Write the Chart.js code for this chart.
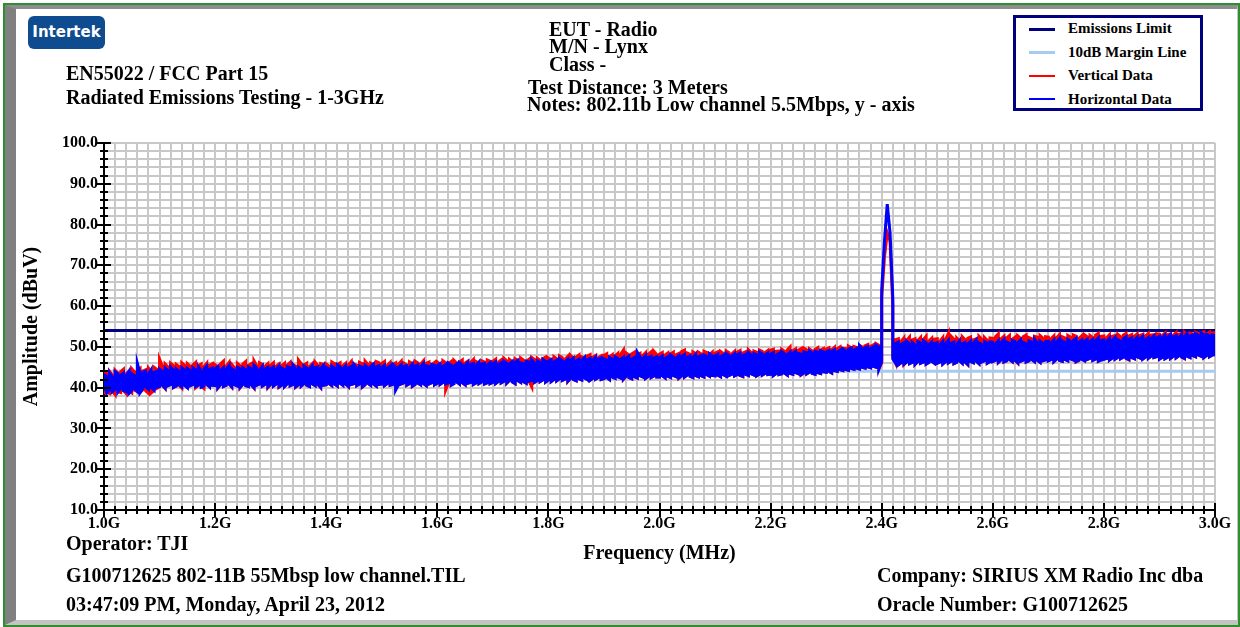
<!DOCTYPE html>
<html lang="en">
<head>
    <meta charset="UTF-8">
    <title>EN55022 / FCC Part 15 Radiated Emissions 1-3GHz</title>
    <script src="https://cdn.jsdelivr.net/npm/chart.js"></script>
    <style>
        body {
            margin: 0;
            width: 1240px;
            height: 627px;
            overflow: hidden;
            background: #fff;
            position: relative;
        }
        #frame {
            position: absolute;
            left: 3px; top: 3px;
            width: 1237px; height: 624px;
            box-sizing: border-box;
            border: 2px solid #2f8f2f;
        }
        #bevel {
            position: absolute;
            left: 0; top: 0; right: 0; bottom: 0;
            border-top: 4px solid #8e8e8e;
            border-left: 11px solid #808080;
            border-bottom: 5px solid #c4c4c4;
            border-right: 1px solid #c4c4c4;
        }
        #chartBox {
            position: absolute;
            left: 0; top: 0;
            width: 1240px; height: 627px;
        }
        .t {
            position: absolute;
            font: bold 20px/20px "Liberation Serif", "Times New Roman", serif;
            color: #000;
            white-space: nowrap;
        }
        .logo {
            position: absolute;
            left: 28px; top: 16px;
            width: 77px; height: 33px;
            border-radius: 6px;
            background: #0e4b8f;
            color: #fff;
            font: bold 15px/33px "DejaVu Sans", sans-serif;
            text-align: center;
        }
        .legend {
            position: absolute;
            left: 1013px; top: 15px;
            width: 190px; height: 96px;
            box-sizing: border-box;
            border: 3px solid #000080;
            background: #fff;
        }
        .lg-line { position: absolute; left: 1029px; width: 26px; }
        .lg-text {
            position: absolute;
            left: 1068px;
            font: bold 15px/15px "Liberation Serif", "Times New Roman", serif;
            color: #000;
            white-space: nowrap;
        }
    </style>
</head>
<body>
    <div id="frame"><div id="bevel"></div></div>
    <div id="chartBox"><canvas id="emiChart" width="1240" height="627"></canvas></div>

    <div class="logo">Intertek</div>
    <div class="t" style="left:66px; top:63px;">EN55022 / FCC Part 15</div>
    <div class="t" style="left:66px; top:87px;">Radiated Emissions Testing - 1-3GHz</div>

    <div class="t" style="left:549px; top:19px;">EUT - Radio</div>
    <div class="t" style="left:549px; top:36px;">M/N - Lynx</div>
    <div class="t" style="left:549px; top:54px;">Class -</div>
    <div class="t" style="left:528px; top:77px;">Test Distance: 3 Meters</div>
    <div class="t" style="left:527px; top:94px;">Notes: 802.11b Low channel 5.5Mbps, y - axis</div>

    <div class="legend"></div>
    <div class="lg-line" style="top:28px; height:3px; background:#000080;"></div>
    <div class="lg-line" style="top:51px; height:3px; background:#a6caf0;"></div>
    <div class="lg-line" style="top:75px; height:2px; background:#ff0000;"></div>
    <div class="lg-line" style="top:98px; height:2px; background:#0000ff;"></div>
    <div class="lg-text" style="top:21px;">Emissions Limit</div>
    <div class="lg-text" style="top:45px;">10dB Margin Line</div>
    <div class="lg-text" style="top:68px;">Vertical Data</div>
    <div class="lg-text" style="top:92px;">Horizontal Data</div>

    <div class="t" style="left:66px; top:533px;">Operator: TJI</div>
    <div class="t" style="left:66px; top:565px;">G100712625 802-11B 55Mbsp low channel.TIL</div>
    <div class="t" style="left:66px; top:594px;">03:47:09 PM, Monday, April 23, 2012</div>
    <div class="t" style="left:877px; top:565px;">Company: SIRIUS XM Radio Inc dba</div>
    <div class="t" style="left:877px; top:594px;">Oracle Number: G100712625</div>

<script>
// sweep: 1000-3000 MHz, one min/max pair per 5 MHz bin
const freqStart = 1000;
const freqStep = 5;

// limit lines (dBuV)
const limitFreqs = [1000, 3000];
const limitValues = [54, 54];
const marginValues = [44, 44];

// Horizontal Data (blue) - bin maxima
const horizHigh = [
    43.2,42.8,43.6,42.5,43.9,43.4,43.0,43.6,42.9,44.0,43.4,42.9,46.0,43.5,43.8,44.1,43.3,44.4,43.7,44.0,
    44.5,44.0,44.8,44.2,45.0,44.3,44.6,44.1,44.9,44.4,44.7,44.2,44.9,44.4,45.1,44.0,44.6,45.3,44.5,44.8,
    44.6,45.2,44.3,44.9,44.5,45.4,44.7,44.2,45.0,44.6,44.9,44.4,45.1,44.7,45.5,44.8,44.3,45.2,44.6,45.0,
    44.7,45.1,44.5,45.3,44.8,44.4,45.2,44.9,45.6,44.6,45.0,44.5,45.3,44.8,44.6,45.4,44.9,45.1,44.7,45.5,
    45.0,44.6,45.3,44.8,45.6,45.1,44.7,45.4,44.9,45.2,45.7,44.8,45.3,45.0,45.5,44.9,45.2,45.8,45.1,45.4,
    45.0,45.5,44.8,45.3,45.7,45.1,44.9,45.6,45.2,45.4,45.0,45.8,45.3,45.6,45.1,45.9,45.4,45.2,45.7,45.5,
    45.4,45.9,45.2,45.7,46.0,45.5,45.3,45.8,46.1,45.6,45.4,46.2,45.7,45.9,45.5,46.3,45.8,46.0,45.6,46.1,
    45.9,46.3,45.7,46.1,46.5,46.0,45.8,46.4,46.2,46.7,46.1,45.9,46.5,46.3,46.8,46.0,46.6,46.2,46.9,46.4,
    46.5,46.9,46.3,46.7,47.1,46.6,46.4,47.0,46.8,47.3,46.6,47.0,46.7,47.4,46.9,47.2,46.8,47.5,47.0,47.3,
    47.1,46.8,47.4,47.0,47.6,47.2,46.9,47.5,47.3,47.8,47.0,47.4,48.7,47.6,47.2,47.9,47.4,47.7,47.3,47.6,
    47.4,47.8,47.2,47.6,48.0,47.5,47.3,47.9,47.7,48.1,47.5,47.8,47.4,48.2,47.6,47.9,48.0,47.7,48.3,47.8,
    47.8,48.2,47.6,48.0,48.4,47.9,47.7,48.3,48.1,48.5,47.9,48.2,48.6,48.0,48.4,48.1,48.7,48.3,48.0,48.5,
    48.2,48.6,48.0,48.4,48.8,48.3,48.1,48.7,48.5,48.9,48.4,48.2,48.8,48.6,49.0,48.5,48.9,48.7,49.1,48.8,
    48.7,49.1,48.9,49.3,48.8,49.2,49.5,49.0,49.4,49.7,49.2,49.6,50.3,49.5,49.8,50.1,49.6,50.0,50.4,49.9,
    64,76,85,78,62,50.8,51.2,50.6,51.0,51.4,50.7,51.1,50.5,51.3,50.9,51.5,51.0,50.6,51.2,50.8,
    51.0,50.5,51.3,50.8,51.6,50.9,51.2,50.6,51.5,50.8,51.1,50.7,51.4,50.9,51.7,51.0,50.6,51.3,50.9,51.2,
    51.1,50.7,51.5,51.0,51.8,51.2,50.9,51.6,51.3,51.0,51.7,51.1,50.8,51.5,51.2,51.9,51.0,51.4,50.9,51.3,
    51.4,51.0,51.7,51.2,52.0,51.5,51.1,51.8,51.3,51.6,52.1,51.2,51.7,51.4,51.9,51.3,51.8,51.5,52.2,51.6,
    51.7,51.3,52.1,51.6,52.3,51.8,51.4,52.0,52.5,51.9,52.2,51.7,52.4,52.0,52.6,51.8,52.3,52.1,52.7,52.2,
    52.6,52.2,52.9,52.4,53.0,52.5,52.8,52.3,53.1,52.6,53.3,52.7,52.9,53.2,52.8,53.4,52.9,53.1,52.7,53.0,
    52.8
];

// Horizontal Data (blue) - bin minima
const horizLow = [
    39.1,38.7,39.4,39.0,39.6,38.9,39.8,39.3,39.0,38.6,39.3,39.7,39.1,38.8,39.8,40.2,39.6,40.0,39.4,40.1,
    40.3,40.6,39.9,40.5,40.8,40.1,40.4,40.7,40.2,40.6,40.0,40.5,40.8,40.3,40.7,40.1,40.4,40.9,40.2,40.6,
    40.5,40.0,40.8,40.3,40.6,40.9,40.2,40.7,40.4,40.1,40.8,40.5,40.3,40.7,40.0,40.6,40.9,40.4,40.8,40.2,
    40.8,40.4,40.9,40.2,40.6,40.3,41.0,40.5,40.8,40.2,40.7,40.4,41.0,40.6,40.3,40.9,40.5,40.8,40.1,40.6,
    40.7,41.0,40.5,40.9,40.4,41.1,40.6,40.9,40.3,40.8,41.0,40.5,40.9,40.2,40.7,41.1,40.6,40.9,40.4,40.8,
    40.9,40.5,41.0,40.6,40.8,39.4,40.7,40.9,41.2,40.6,41.0,40.4,40.8,41.1,40.7,41.0,40.5,40.9,41.2,40.7,
    41.1,40.8,41.3,40.9,41.2,40.6,41.0,41.4,40.9,41.2,40.7,41.1,41.3,40.8,41.2,41.0,41.4,40.9,41.2,41.0,
    41.3,41.0,41.5,41.2,41.6,41.1,41.8,41.4,41.0,41.7,41.3,41.5,41.1,41.6,41.8,41.3,41.7,41.5,41.9,41.4,
    41.9,41.5,42.0,41.7,42.2,41.8,42.1,41.6,42.3,42.0,41.7,42.2,41.9,42.4,42.0,41.8,42.3,42.1,42.5,42.0,
    42.2,42.5,42.0,42.6,42.3,42.7,42.4,42.1,42.8,42.5,42.2,42.7,42.4,42.9,42.6,42.3,42.8,42.5,42.9,42.6,
    42.6,42.9,42.4,42.8,42.5,43.0,42.7,42.4,42.9,42.6,43.1,42.8,42.5,43.0,42.7,42.9,42.6,43.2,42.8,43.0,
    42.9,43.1,42.7,43.2,42.8,43.0,43.3,42.9,43.2,43.0,42.8,43.3,43.0,43.4,43.1,42.9,43.3,43.1,43.5,43.2,
    43.3,43.0,43.5,43.2,43.4,43.6,43.1,43.5,43.3,43.7,43.4,43.2,43.6,43.4,43.8,43.5,43.3,43.7,43.5,43.9,
    43.8,44.0,43.6,44.2,44.0,44.4,44.2,44.5,44.3,44.7,44.5,44.8,44.6,45.0,44.8,45.1,44.9,45.2,45.0,44.6,
    46.5,76,85,78,47,46.0,45.6,46.1,45.8,46.3,45.9,46.2,45.7,46.4,46.0,46.3,45.8,46.2,46.5,46.0,
    46.0,46.3,45.8,46.4,46.1,46.5,45.9,46.2,46.6,46.0,46.3,45.7,46.4,46.1,46.5,45.9,46.3,46.6,46.0,46.4,
    46.4,46.7,46.2,46.8,46.3,46.6,46.9,46.4,46.7,46.1,46.5,46.8,46.3,46.6,46.9,46.4,46.7,46.2,46.6,46.8,
    46.6,46.9,46.4,47.0,46.7,46.5,46.9,46.6,47.1,46.8,46.4,46.7,47.0,46.6,46.9,47.2,46.7,47.0,46.5,46.8,
    47.0,47.2,46.8,47.3,47.0,47.4,47.1,47.5,47.2,46.9,47.4,47.1,47.6,47.3,47.0,47.5,47.2,47.7,47.4,47.6,
    47.0,47.4,47.1,47.5,47.2,47.7,47.3,47.8,47.5,47.2,47.7,47.4,47.9,47.6,48.0,47.7,47.4,47.9,47.6,48.0,
    47.7
];

// Vertical Data (red) - bin maxima
const vertHigh = [
    43.8,43.5,44.0,43.1,44.3,43.6,43.9,44.5,43.4,44.0,44.6,43.8,44.2,44.7,44.1,44.4,44.8,44.0,45.0,44.5,
    47.0,45.3,45.8,45.1,46.0,45.4,45.7,45.2,46.1,45.5,45.9,45.3,45.6,46.2,45.4,45.8,45.2,46.0,45.5,45.9,
    45.6,45.1,45.9,46.5,45.3,46.2,45.7,44.9,46.0,45.4,45.8,46.4,45.5,45.9,46.6,45.4,46.1,45.7,45.3,45.9,
    45.5,46.1,45.3,45.8,45.4,46.0,45.6,46.2,45.7,45.3,46.8,45.9,45.6,46.0,45.2,45.9,46.3,45.5,45.9,45.7,
    45.8,45.3,46.3,45.9,45.7,46.1,45.4,46.0,45.6,46.4,45.8,45.5,46.2,45.9,46.5,45.7,46.0,45.6,46.4,46.1,
    45.9,46.4,45.5,46.2,45.7,46.1,45.8,46.5,46.0,45.6,46.3,45.9,46.5,46.1,45.8,46.6,46.0,46.3,45.7,46.2,
    46.3,45.8,46.6,46.1,45.9,46.4,46.7,46.0,46.3,46.8,46.1,46.5,46.2,46.9,46.4,46.0,46.6,46.3,46.8,46.5,
    46.5,47.0,46.3,46.8,47.2,46.6,46.9,46.4,47.1,46.7,47.3,46.8,46.5,47.0,47.4,46.9,47.2,46.7,47.1,47.5,
    47.3,46.9,47.6,47.1,47.8,47.4,47.0,47.7,47.9,47.2,47.5,48.0,47.6,47.3,47.8,48.1,47.5,47.9,47.4,47.8,
    47.9,48.3,47.6,48.1,47.8,48.4,48.2,49.2,48.5,48.0,48.3,48.7,48.1,48.4,47.9,48.6,48.2,48.8,48.9,48.1,
    48.2,48.6,48.0,48.5,48.3,48.7,48.1,48.4,48.9,49.2,48.5,48.2,48.8,48.4,48.7,48.3,48.9,48.6,48.1,48.7,
    48.5,48.8,48.9,48.4,49.0,48.6,48.3,48.9,48.7,49.1,48.5,48.8,49.3,48.6,49.0,48.7,49.2,48.9,48.6,49.1,
    49.2,49.4,48.9,49.0,49.4,48.9,49.3,50.0,49.1,49.5,49.2,49.6,49.7,49.3,49.5,49.0,49.4,49.8,49.2,49.6,
    49.5,49.8,49.3,49.9,49.6,50.0,49.7,49.6,50.2,49.8,50.1,49.9,50.4,50.0,50.3,50.6,50.1,50.5,50.8,50.4,
    62,72,78,76,60,51.8,52.0,51.3,52.2,51.6,52.4,51.7,52.0,51.5,52.3,51.8,52.6,51.4,52.1,51.9,
    52.0,51.4,52.3,51.8,53.3,52.6,51.9,52.2,51.5,52.5,51.8,52.1,52.4,51.7,52.0,52.6,51.9,52.3,51.6,52.2,
    52.1,52.5,53.2,52.0,52.6,52.2,52.8,51.9,52.4,52.7,52.1,52.5,52.9,52.3,52.0,52.6,52.4,52.8,52.2,52.5,
    52.4,52.0,52.7,52.3,53.0,52.5,52.2,52.8,52.4,52.9,52.6,52.1,52.7,53.0,52.5,52.8,52.3,52.9,53.3,52.6,
    52.7,52.3,53.0,52.6,52.8,53.1,52.5,52.9,53.3,52.7,53.0,52.6,53.2,52.8,53.1,52.7,53.3,52.9,53.0,53.2,
    53.1,52.8,53.4,53.0,53.2,52.9,53.5,53.1,53.3,53.6,53.0,53.4,53.2,53.6,53.3,53.5,53.7,53.2,53.6,53.4,
    53.5
];

// Vertical Data (red) - bin minima
const vertLow = [
    38.4,38.9,38.6,39.2,38.3,39.0,38.8,39.3,38.5,39.1,38.7,39.4,39.0,38.9,39.5,39.2,38.6,38.7,39.3,39.8,
    40.2,40.6,39.8,40.5,40.8,40.0,40.4,40.6,39.9,40.7,40.1,40.5,40.8,40.0,40.6,40.3,39.8,40.7,40.3,40.6,
    40.5,39.9,40.8,40.3,40.6,40.9,40.1,40.7,40.4,40.0,40.9,40.5,40.3,40.7,39.9,40.6,40.9,40.4,40.8,40.0,
    40.8,40.4,40.9,40.1,40.6,40.3,41.0,40.5,40.8,40.1,40.7,40.4,41.0,40.6,40.3,40.9,40.5,40.8,40.0,40.6,
    40.7,41.0,40.5,40.9,40.4,41.1,40.6,40.9,40.2,40.8,41.0,40.5,40.9,40.1,40.7,41.1,40.6,40.9,40.4,40.8,
    40.9,40.5,41.0,40.6,40.8,39.9,40.7,40.9,41.2,40.6,41.0,40.3,40.8,41.1,40.7,41.0,40.5,40.9,41.2,40.7,
    41.1,40.8,41.3,39.4,41.2,40.6,41.0,41.4,40.9,41.2,40.7,41.1,41.3,40.8,41.2,41.0,41.4,40.9,41.2,41.0,
    41.3,41.0,41.5,41.2,41.6,41.1,41.8,41.4,41.0,41.7,41.3,41.5,41.1,41.6,40.2,41.3,41.7,41.5,41.9,41.4,
    41.9,41.5,42.0,41.7,42.2,41.8,42.1,41.5,42.3,42.0,41.7,42.2,41.9,42.4,42.0,41.8,42.3,42.1,42.5,42.0,
    42.2,42.5,42.0,42.6,42.3,42.7,42.4,42.0,42.8,42.5,42.2,42.7,42.4,42.9,42.6,42.3,42.8,42.5,42.9,42.6,
    42.6,42.9,42.4,42.8,42.5,43.0,42.7,42.3,42.9,42.6,43.1,42.8,42.5,43.0,42.7,42.9,42.6,43.2,42.8,43.0,
    42.9,43.1,42.7,43.2,42.8,43.0,43.3,42.9,43.2,43.0,42.7,43.3,43.0,43.4,43.1,42.9,43.3,43.1,43.5,43.2,
    43.3,43.0,43.5,43.2,43.4,43.6,43.1,43.5,43.3,43.7,43.4,43.1,43.6,43.4,43.8,43.5,43.3,43.7,43.5,43.9,
    43.8,44.0,43.6,44.2,44.0,44.4,44.2,44.5,44.3,44.7,44.5,44.8,44.6,45.0,44.8,45.1,44.9,45.2,45.0,44.6,
    46.0,72,78,76,47.5,46.0,45.6,46.1,45.6,46.3,45.9,46.2,45.7,46.4,46.0,46.3,45.8,46.2,46.5,46.0,
    46.0,46.3,45.8,46.4,46.1,46.5,45.9,46.2,46.6,46.0,46.3,45.6,46.4,46.1,46.5,45.9,46.3,46.6,46.0,46.4,
    46.4,46.7,46.2,46.8,46.3,46.6,46.9,46.4,46.7,46.0,46.5,46.8,46.3,46.6,46.9,46.4,46.7,46.2,46.6,46.8,
    46.6,46.9,46.4,47.0,46.7,46.5,46.9,46.6,47.1,46.8,46.3,46.7,47.0,46.6,46.9,47.2,46.7,47.0,46.5,46.8,
    47.0,47.2,46.8,47.3,47.0,47.4,47.1,47.5,47.2,46.8,47.4,47.1,47.6,47.3,47.0,47.5,47.2,47.7,47.4,47.6,
    47.0,47.4,47.1,47.5,47.2,47.7,47.3,47.8,47.5,47.1,47.7,47.4,47.9,47.6,48.0,47.7,47.4,47.9,47.6,48.0,
    47.7
];

// each bin becomes a vertical stroke min->max, ordered so the trace stays continuous
const envelopePoints = (lows, highs) => {
    const pts = [];
    let lastY = null;
    lows.forEach((lo, i) => {
        const f = freqStart + i * freqStep;
        const hi = highs[i];
        if (lastY === null || Math.abs(lastY - lo) <= Math.abs(lastY - hi)) {
            pts.push({x: f, y: lo}, {x: f, y: hi});
            lastY = hi;
        } else {
            pts.push({x: f, y: hi}, {x: f, y: lo});
            lastY = lo;
        }
    });
    return pts;
};

const flatLine = (values) => limitFreqs.map((f, i) => ({x: f, y: values[i]}));

// tick marks crossing the axis lines (long on labelled ticks)
const crossTicks = {
    id: 'crossTicks',
    afterDraw(chart) {
        const {ctx, scales: {x, y}} = chart;
        ctx.save();
        ctx.strokeStyle = '#000';
        ctx.lineWidth = 2;
        ctx.beginPath();
        x.ticks.forEach((t, i) => {
            const px = Math.round(x.getPixelForTick(i));
            const len = Math.round(t.value) % 200 === 0 ? 7 : 4;
            ctx.moveTo(px, x.top - len);
            ctx.lineTo(px, x.top + len);
        });
        y.ticks.forEach((t, i) => {
            const py = Math.round(y.getPixelForTick(i));
            const len = Math.round(t.value) % 10 === 0 ? 7 : 4;
            ctx.moveTo(y.right - len, py);
            ctx.lineTo(y.right + len, py);
        });
        ctx.stroke();
        ctx.restore();
    }
};

Chart.defaults.font.family = '"Liberation Serif", "Times New Roman", serif';
Chart.defaults.color = '#000';

const tickFont = {size: 16, weight: 'bold'};
const titleFont = {size: 20, weight: 'bold'};

new Chart(document.getElementById('emiChart'), {
    type: 'line',
    data: {
        datasets: [
            {
                label: 'Horizontal Data',
                data: envelopePoints(horizLow, horizHigh),
                borderColor: '#0000ff',
                borderWidth: 3,
                order: 0
            },
            {
                label: 'Vertical Data',
                data: envelopePoints(vertLow, vertHigh),
                borderColor: '#ff0000',
                borderWidth: 3,
                order: 1
            },
            {
                label: 'Emissions Limit',
                data: flatLine(limitValues),
                borderColor: '#000080',
                borderWidth: 3,
                order: 2
            },
            {
                label: '10dB Margin Line',
                data: flatLine(marginValues),
                borderColor: '#a6caf0',
                borderWidth: 3,
                order: 3
            }
        ]
    },
    options: {
        responsive: false,
        animation: false,
        events: [],
        elements: {point: {radius: 0}, line: {tension: 0}},
        layout: {padding: {top: 143, right: 25, left: 0, bottom: 0}},
        plugins: {legend: {display: false}, tooltip: {enabled: false}},
        scales: {
            x: {
                type: 'linear',
                min: 1000,
                max: 3000,
                afterFit: (s) => { s.height = 117; },
                grid: {color: '#c8c8c8', lineWidth: 2, drawTicks: false},
                border: {color: '#000', width: 2},
                ticks: {
                    stepSize: 20,
                    autoSkip: false,
                    maxRotation: 0,
                    minRotation: 0,
                    padding: 4,
                    font: tickFont,
                    callback: (v) => Math.round(v) % 200 === 0 ? (v / 1000).toFixed(1) + 'G' : ''
                },
                title: {display: true, text: 'Frequency (MHz)', font: titleFont, padding: {top: 0, bottom: 61}}
            },
            y: {
                min: 10,
                max: 100,
                afterFit: (s) => { s.width = 104; },
                grid: {color: '#c8c8c8', lineWidth: 2, drawTicks: false},
                border: {color: '#000', width: 2},
                ticks: {
                    stepSize: 2,
                    autoSkip: false,
                    padding: 6,
                    font: tickFont,
                    callback: (v) => Math.round(v) % 10 === 0 ? v.toFixed(1) : ''
                },
                title: {display: true, text: 'Amplitude (dBuV)', font: titleFont, padding: {top: 20, bottom: 0}}
            }
        }
    },
    plugins: [crossTicks]
});
</script>
</body>
</html>
